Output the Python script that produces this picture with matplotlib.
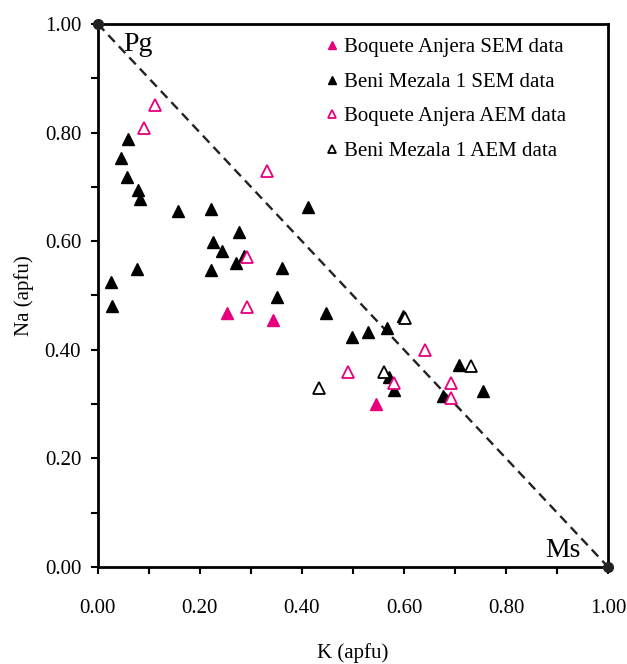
import matplotlib.pyplot as plt
from matplotlib.ticker import MultipleLocator

plt.rcParams['font.family'] = ['Liberation Serif', 'DejaVu Serif']

pink = '#E6007E'

# Boquete Anjera SEM data
ba_sem_k = [0.254, 0.343, 0.546]
ba_sem_na = [0.467, 0.455, 0.301]

# Beni Mezala 1 SEM data
bm_sem_k = [0.060, 0.046, 0.058, 0.078, 0.083, 0.157, 0.221, 0.277, 0.226, 0.244,
            0.286, 0.271, 0.221, 0.076, 0.025, 0.028, 0.411, 0.361, 0.352, 0.448,
            0.498, 0.530, 0.567, 0.597, 0.571, 0.581, 0.707, 0.676, 0.754]
bm_sem_na = [0.789, 0.753, 0.718, 0.694, 0.677, 0.656, 0.659, 0.616, 0.598, 0.581,
             0.573, 0.559, 0.546, 0.548, 0.525, 0.481, 0.663, 0.550, 0.498, 0.468,
             0.424, 0.432, 0.441, 0.462, 0.350, 0.326, 0.372, 0.315, 0.324]

# Boquete Anjera AEM data
ba_aem_k = [0.113, 0.091, 0.332, 0.293, 0.293, 0.641, 0.491, 0.581, 0.692, 0.692]
ba_aem_na = [0.851, 0.809, 0.729, 0.570, 0.479, 0.400, 0.360, 0.339, 0.339, 0.311]

# Beni Mezala 1 AEM data
bm_aem_k = [0.601, 0.731, 0.433, 0.561]
bm_aem_na = [0.459, 0.370, 0.330, 0.360]

fig = plt.figure(figsize=(6.27, 6.64), dpi=100)
ax = fig.add_axes([0.156, 0.146, 0.814, 0.818])

# Pg - Ms join
ax.plot([0, 1], [1, 0], color='#222222', ls=(0, (4, 2.5)), lw=1.7, zorder=1)
ax.plot([0, 1], [1, 0], 'o', color='#222222', ms=7, clip_on=False, zorder=5)

ms = 9
ax.plot(ba_sem_k, ba_sem_na, '^', ls='none', color=pink, ms=ms, label='Boquete Anjera SEM data')
ax.plot(bm_sem_k, bm_sem_na, '^', ls='none', color='black', ms=ms, label='Beni Mezala 1 SEM data')
ax.plot(ba_aem_k, ba_aem_na, '^', ls='none', mfc='white', mec=pink, mew=1.3, ms=ms,
        label='Boquete Anjera AEM data')
ax.plot(bm_aem_k, bm_aem_na, '^', ls='none', mfc='white', mec='black', mew=1.3, ms=ms,
        label='Beni Mezala 1 AEM data')

ax.text(0.05, 0.962, 'Pg', fontsize=20, va='center')
ax.text(0.876, 0.03, 'Ms', fontsize=20, va='center')

ax.set_xlim(0, 1)
ax.set_ylim(0, 1)
ax.xaxis.set_major_locator(MultipleLocator(0.2))
ax.xaxis.set_minor_locator(MultipleLocator(0.1))
ax.yaxis.set_major_locator(MultipleLocator(0.2))
ax.yaxis.set_minor_locator(MultipleLocator(0.1))
ax.xaxis.set_major_formatter(lambda v, p: f'{v:.2f}')
ax.yaxis.set_major_formatter(lambda v, p: f'{v:.2f}')
ax.tick_params(which='both', direction='out', width=1.5, length=5, labelsize=15)
ax.tick_params(axis='x', pad=18)
ax.tick_params(axis='y', pad=7)
for s in ax.spines.values():
    s.set_linewidth(2)

ax.set_xlabel('K (apfu)', fontsize=15, labelpad=18)
ax.set_ylabel('Na (apfu)', fontsize=15, labelpad=8)

ax.legend(loc='upper left', bbox_to_anchor=(0.43, 0.99), borderaxespad=0, frameon=False,
          fontsize=15, markerscale=0.65, handlelength=0.6, handletextpad=0.3,
          labelspacing=0.72)

fig.savefig('out.png', dpi=100)
